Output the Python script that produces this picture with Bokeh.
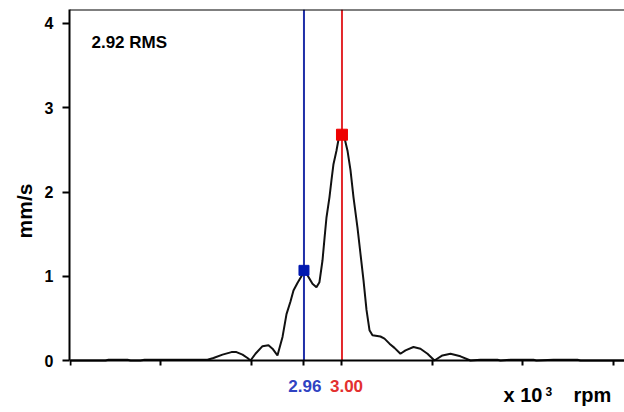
from bokeh.plotting import figure
from bokeh.models import Range1d, FixedTicker, Span, Label
from bokeh.embed import file_html
from bokeh.resources import INLINE

# spectrum (x in 10^3 rpm, y in mm/s)
freq = [2.700, 2.7387, 2.7420, 2.7630, 2.7663, 2.7773, 2.7818, 2.8514, 2.8580, 2.8680,
        2.8779, 2.8834, 2.8901, 2.8956, 2.8989, 2.9044, 2.9122, 2.9188, 2.9232, 2.9287,
        2.9343, 2.9387, 2.9431, 2.9464, 2.9508, 2.9552, 2.9586, 2.9630, 2.9674, 2.9718,
        2.9751, 2.9785, 2.9807, 2.9829, 2.9862, 2.9884, 2.9906, 2.9939, 2.9961, 3.0000,
        3.0028, 3.0061, 3.0094, 3.0127, 3.0171, 3.0204, 3.0238, 3.0271, 3.0304, 3.0337,
        3.0425, 3.0470, 3.0525, 3.0580, 3.0646, 3.0702, 3.0790, 3.0867, 3.0945, 3.1022,
        3.1110, 3.1199, 3.1309, 3.1420, 3.1530, 3.1718, 3.1751, 3.1862, 3.2116, 3.2149,
        3.2337, 3.2602, 3.2635, 3.3122]
amp = [0.0, 0.0, 0.01, 0.01, 0.0, 0.0, 0.01, 0.01, 0.03, 0.07,
       0.10, 0.10, 0.07, 0.03, 0.0, 0.08, 0.17, 0.18, 0.14, 0.06,
       0.28, 0.55, 0.70, 0.83, 0.92, 1.00, 1.07, 0.99, 0.91, 0.87,
       0.93, 1.19, 1.45, 1.70, 1.94, 2.14, 2.33, 2.49, 2.62, 2.68,
       2.64, 2.49, 2.26, 1.94, 1.58, 1.27, 0.95, 0.60, 0.36, 0.30,
       0.285, 0.26, 0.20, 0.15, 0.08, 0.12, 0.16, 0.14, 0.08, 0.0,
       0.06, 0.08, 0.05, 0.0, 0.01, 0.01, 0.0, 0.01, 0.01, 0.0,
       0.01, 0.01, 0.0, 0.0]

x_ticks = [2.7, 2.8, 2.9, 3.0, 3.1, 3.2, 3.3]
y_ticks = [0, 1, 2, 3, 4]
y_top = 4.166

cursor_blue_x = 2.958
cursor_blue_y = 1.07
cursor_blue_label = "2.96"
cursor_red_x = 3.00
cursor_red_y = 2.68
cursor_red_label = "3.00"
rms_text = "2.92 RMS"
y_label = "mm/s"

FONT = "Liberation Sans"
BLUE = "#1f2fa8"
RED = "#e3262a"

p = figure(width=624, height=412, output_backend="svg", toolbar_location=None,
           x_range=Range1d(2.6989, 3.3122), y_range=Range1d(-0.617, y_top),
           min_border_left=69, min_border_right=0, min_border_top=9, min_border_bottom=0)
p.outline_line_color = None
p.grid.visible = False
p.background_fill_color = "white"
p.border_fill_color = "white"

# y axis
ya = p.yaxis[0]
ya.ticker = FixedTicker(ticks=y_ticks)
ya.bounds = (0, y_top)
ya.axis_line_width = 2
ya.axis_line_color = "black"
ya.major_tick_line_width = 2
ya.major_tick_out = 7
ya.major_tick_in = 0
ya.minor_tick_line_color = None
ya.major_label_text_font = FONT
ya.major_label_text_font_style = "bold"
ya.major_label_text_font_size = "16px"
ya.major_label_text_color = "black"
ya.major_label_standoff = 9
ya.axis_label = y_label
ya.axis_label_text_font = FONT
ya.axis_label_text_font_style = "bold"
ya.axis_label_text_font_size = "21px"
ya.axis_label_text_color = "black"
ya.axis_label_standoff = 6

# x axis, placed at y = 0 inside the frame
xa = p.xaxis[0]
xa.fixed_location = 0
xa.ticker = FixedTicker(ticks=x_ticks + [cursor_blue_x])
xa.major_label_overrides = {t: "" for t in x_ticks + [cursor_blue_x]}
xa.axis_line_width = 2
xa.axis_line_color = "black"
xa.major_tick_line_width = 2
xa.major_tick_out = 5
xa.major_tick_in = 0
xa.minor_tick_line_color = None
xa.major_label_text_font_size = "1px"

# top border line
p.add_layout(Span(location=y_top, dimension="width", line_color="black", line_width=2))

# cursors
p.segment(x0=[cursor_blue_x], y0=[0], x1=[cursor_blue_x], y1=[y_top], line_color=BLUE, line_width=2)
p.segment(x0=[cursor_red_x], y0=[0], x1=[cursor_red_x], y1=[y_top], line_color=RED, line_width=2)

p.line(freq, amp, line_color="#111111", line_width=2)

p.scatter([cursor_blue_x], [cursor_blue_y], marker="square", size=10, color="#0018b0")
p.scatter([cursor_red_x], [cursor_red_y], marker="square", size=11, color="#ee0000")

# texts
p.add_layout(Label(x=2.7232, y=3.778, text=rms_text, text_font=FONT, text_font_style="bold",
                   text_font_size="17px", text_color="black", text_baseline="alphabetic"))
p.add_layout(Label(x=cursor_blue_x + 0.001, y=-0.297, text=cursor_blue_label, text_font=FONT,
                   text_font_style="bold", text_font_size="17px", text_color="#2f43c2",
                   text_align="center", text_baseline="middle"))
p.add_layout(Label(x=cursor_red_x + 0.005, y=-0.297, text=cursor_red_label, text_font=FONT,
                   text_font_style="bold", text_font_size="17px", text_color="#e3302f",
                   text_align="center", text_baseline="middle"))
p.add_layout(Label(x=3.1785, y=-0.415, text="x 10", text_font=FONT, text_font_style="bold",
                   text_font_size="20px", text_color="black", text_baseline="middle"))
p.add_layout(Label(x=3.2249, y=-0.37, text="3", text_font=FONT, text_font_style="bold",
                   text_font_size="12px", text_color="black", text_baseline="middle"))
p.add_layout(Label(x=3.2558, y=-0.415, text="rpm", text_font=FONT, text_font_style="bold",
                   text_font_size="20px", text_color="black", text_baseline="middle"))

open("out.html", "w").write(file_html(p, INLINE))
